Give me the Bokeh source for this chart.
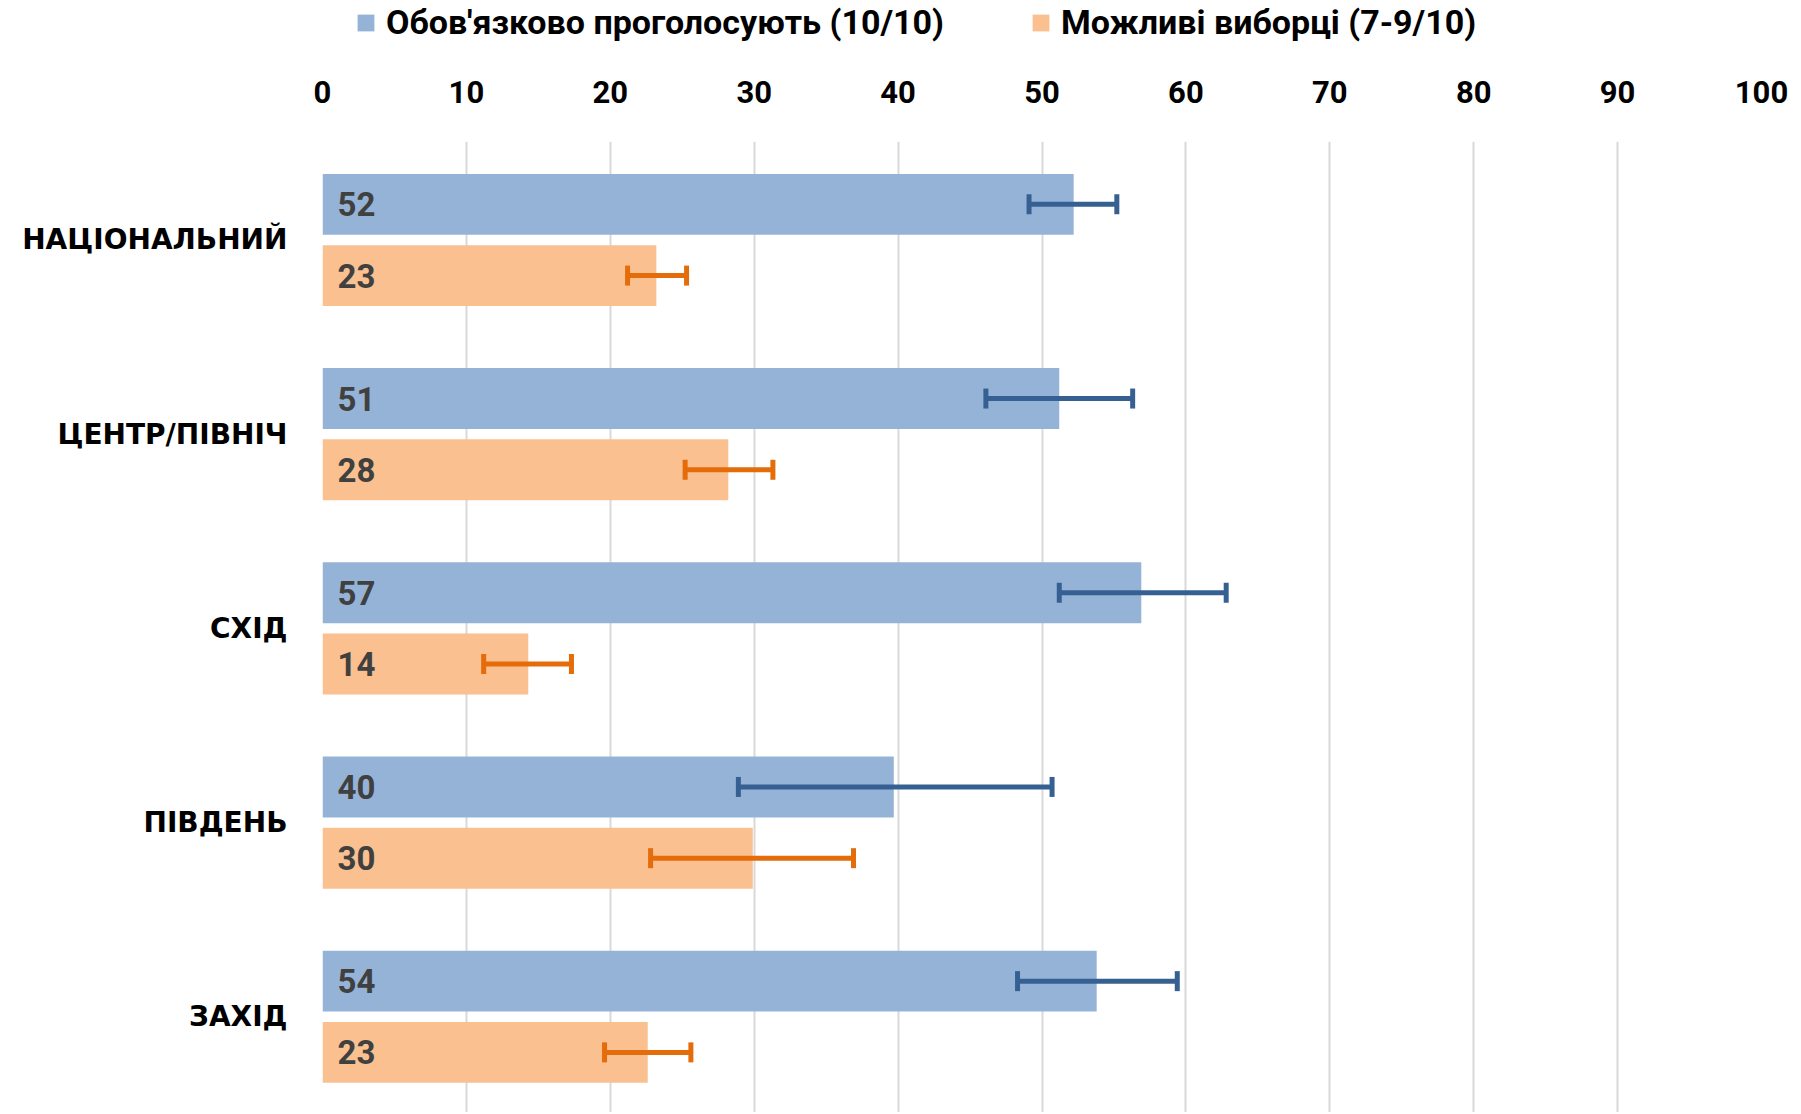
from bokeh.plotting import figure
from bokeh.layouts import column
from bokeh.models import (Range1d, FixedTicker, SingleIntervalTicker, Legend, LegendItem,
                          ColumnDataSource, Whisker, TeeHead)
from bokeh.core.properties import value
from bokeh.embed import file_html
from bokeh.resources import INLINE

# ---- data ----
regions = ["НАЦІОНАЛЬНИЙ", "ЦЕНТР/ПІВНІЧ", "СХІД", "ПІВДЕНЬ", "ЗАХІД"]
series_names = ["Обов'язково проголосують (10/10)", "Можливі виборці (7-9/10)"]
certain = [52.2, 51.2, 56.9, 39.7, 53.8]
certain_lo = [49.1, 46.1, 51.2, 28.9, 48.3]
certain_hi = [55.2, 56.3, 62.8, 50.7, 59.4]
possible = [23.2, 28.2, 14.3, 29.9, 22.6]
possible_lo = [21.2, 25.2, 11.2, 22.8, 19.6]
possible_hi = [25.3, 31.3, 17.3, 36.9, 25.6]

# ---- style ----
BLUE = "#95B3D7"
ORANGE = "#FAC090"
BLUE_ERR = "#376092"
ORANGE_ERR = "#E46C0A"
OFF = 0.1834
BAR_H = 0.3136

pos = list(range(len(regions)))

W, H = 1795, 1112
LH = 48                       # legend strip height
LEFT, TOP, RIGHT = 322, 141, 34

src_c = ColumnDataSource(dict(y=[i - OFF for i in pos], v=certain, lo=certain_lo, hi=certain_hi,
                              lbl=[f"{v:.0f}" for v in certain], x0=[0] * len(pos)))
src_p = ColumnDataSource(dict(y=[i + OFF for i in pos], v=possible, lo=possible_lo, hi=possible_hi,
                              lbl=[f"{v:.0f}" for v in possible], x0=[0] * len(pos)))

# ---- legend strip (same series, drawn outside its visible range; only the legend shows) ----
lg = figure(width=W, height=LH, output_backend="svg", toolbar_location=None,
            x_axis_type=None, y_axis_type=None, x_range=Range1d(0, 100), y_range=Range1d(100, 101))
lg.frame_width = W
lg.frame_height = LH
lg.min_border = 0
lg.outline_line_color = None
lg.xgrid.visible = False
lg.ygrid.visible = False
lr1 = lg.hbar(y="y", right="v", left=0, height=BAR_H, source=src_c, fill_color=BLUE, line_color=None)
lr2 = lg.hbar(y="y", right="v", left=0, height=BAR_H, source=src_p, fill_color=ORANGE, line_color=None)
legend = Legend(items=[LegendItem(label=series_names[0], renderers=[lr1]),
                       LegendItem(label=series_names[1], renderers=[lr2])],
                orientation="horizontal", location=(355, 6),
                padding=0, margin=0, spacing=86, label_standoff=10,
                glyph_width=21, glyph_height=21, label_height=36,
                border_line_color=None, background_fill_alpha=0,
                label_text_font="Roboto", label_text_font_style="bold",
                label_text_font_size="34px", label_text_color="black")
lg.add_layout(legend)

# ---- main chart ----
p = figure(width=W, height=H - LH, output_backend="svg", toolbar_location=None,
           x_axis_location="above",
           x_range=Range1d(0, 100), y_range=Range1d(4.493, -0.507))
p.frame_width = W - LEFT - RIGHT
p.frame_height = H - TOP
p.min_border_left = LEFT
p.min_border_right = RIGHT
p.min_border_top = TOP - LH
p.min_border_bottom = 0
p.outline_line_color = None

r1 = p.hbar(y="y", right="v", left=0, height=BAR_H, source=src_c, fill_color=BLUE, line_color=None)
r2 = p.hbar(y="y", right="v", left=0, height=BAR_H, source=src_p, fill_color=ORANGE, line_color=None)

for src, col in ((src_c, BLUE_ERR), (src_p, ORANGE_ERR)):
    w = Whisker(base="y", lower="lo", upper="hi", dimension="width", source=src,
                line_color=col, line_width=5, level="annotation",
                upper_head=TeeHead(size=20, line_color=col, line_width=5),
                lower_head=TeeHead(size=20, line_color=col, line_width=5))
    p.add_layout(w)
    p.text(x="x0", y="y", text="lbl", source=src, x_offset=15, text_align="left",
           text_baseline="middle", text_font=value("Roboto"), text_font_style="bold",
           text_font_size="33px", text_color="#404040")

p.xaxis.ticker = SingleIntervalTicker(interval=10)
p.xaxis.axis_line_color = None
p.xaxis.major_tick_line_color = None
p.xaxis.minor_tick_line_color = None
p.xaxis.major_label_standoff = 33
p.xaxis.major_label_text_font = "Roboto"
p.xaxis.major_label_text_font_style = "bold"
p.xaxis.major_label_text_font_size = "31px"
p.xaxis.major_label_text_color = "black"

p.yaxis.ticker = FixedTicker(ticks=pos)
p.yaxis.major_label_overrides = {i: r for i, r in zip(pos, regions)}
p.yaxis.axis_line_color = None
p.yaxis.major_tick_line_color = None
p.yaxis.minor_tick_line_color = None
p.yaxis.major_label_standoff = 29
p.yaxis.major_label_text_font = "DejaVu Sans"
p.yaxis.major_label_text_font_style = "bold"
p.yaxis.major_label_text_font_size = "28px"
p.yaxis.major_label_text_color = "black"

p.xgrid.ticker = SingleIntervalTicker(interval=10)
p.xgrid.grid_line_color = "#D9D9D9"
p.xgrid.grid_line_width = 2
p.ygrid.grid_line_color = None

layout = column(lg, p, spacing=0)
open("out.html", "w").write(file_html(layout, INLINE))
